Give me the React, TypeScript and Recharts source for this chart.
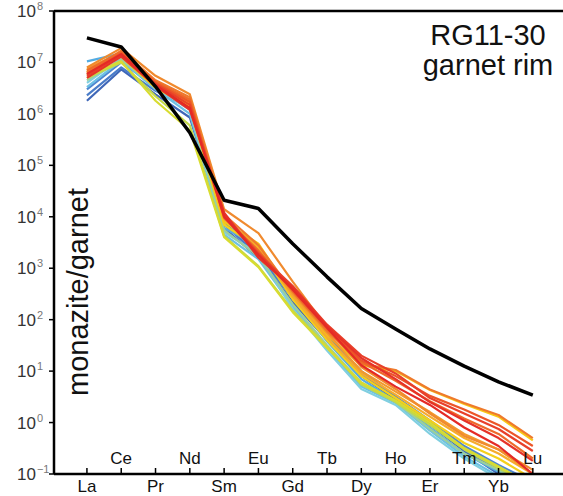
import { LineChart, Line, XAxis, YAxis, ReferenceLine, Customized } from 'recharts'

// REE order on the x axis (Pm omitted)
const ree = ['La', 'Ce', 'Pr', 'Nd', 'Sm', 'Eu', 'Gd', 'Tb', 'Dy', 'Ho', 'Er', 'Tm', 'Yb', 'Lu']

const yTicks = [0.1, 1, 10, 100, 1e3, 1e4, 1e5, 1e6, 1e7, 1e8]

// bulk / reference partition curve
const bulk = [3e7, 2e7, 3.4e6, 4.3e5, 2.1e4, 1.45e4, 3e3, 680, 165, 66, 27, 12.5, 6.2, 3.4]

// individual monazite/garnet rim pairs
const rim01 = [1.8e6, 7.3e6, 2.4e6, 8.5e5, 6e3, 1.6e3, 220, 40, 8, 2.8, 0.9, 0.28, 0.1, 0.05]
const rim02 = [2.3e6, 8e6, 2.8e6, 1.3e6, 7e3, 1.8e3, 260, 45, 9, 3, 1.0, 0.3, 0.12, 0.06]
const rim03 = [3e6, 1e7, 3.4e6, 1.6e6, 8e3, 2e3, 300, 50, 10, 3.2, 1.1, 0.35, 0.15, 0.07]
const rim04 = [1.05e7, 1.5e7, 4.3e6, 1.7e6, 6e3, 2.8e3, 280, 38, 7, 2.6, 0.8, 0.25, 0.11, 0.05]
const rim05 = [3.3e6, 1.1e7, 3e6, 1e6, 4.5e3, 1.5e3, 180, 28, 5, 2.4, 0.7, 0.22, 0.09, 0.04]
const rim06 = [4e6, 1.2e7, 3.2e6, 1.2e6, 5e3, 1.9e3, 160, 25, 4.5, 2.2, 0.6, 0.2, 0.08, 0.035]
const rim07 = [4.5e6, 1.15e7, 3.3e6, 1.3e6, 5.5e3, 1.7e3, 200, 32, 6, 2.5, 0.75, 0.25, 0.12, 0.05]
const rim08 = [5e6, 1e7, 2.2e6, 6e5, 4.2e3, 1.1e3, 150, 30, 5.5, 2.5, 0.9, 0.3, 0.13, 0.06]
const rim09 = [5.5e6, 1.05e7, 1.8e6, 4.8e5, 4e3, 1.05e3, 140, 28, 6, 2.7, 1, 0.32, 0.14, 0.06]
const rim10 = [6e6, 1.3e7, 3.2e6, 1.4e6, 7e3, 2.5e3, 250, 40, 8, 3, 1.1, 0.4, 0.2, 0.08]
const rim11 = [6.5e6, 1.4e7, 3.5e6, 1.5e6, 8e3, 3e3, 300, 50, 13, 10, 4.3, 2.3, 1.3, 0.45]
const rim12 = [7e6, 1.5e7, 3.8e6, 1.6e6, 9e3, 2.6e3, 280, 45, 9, 3.5, 1.3, 0.5, 0.25, 0.1]
const rim13 = [7.5e6, 1.6e7, 4e6, 1.8e6, 1e4, 2.2e3, 320, 55, 10, 4, 1.6, 0.6, 0.3, 0.1]
const rim14 = [8e6, 1.9e7, 5.5e6, 2.4e6, 1.4e4, 4.8e3, 550, 70, 12, 4.5, 1.5, 0.55, 0.3, 0.12]
const rim15 = [6.5e6, 1.7e7, 4.5e6, 2.1e6, 1.1e4, 2.8e3, 350, 60, 14, 10.5, 4.4, 2.4, 1.4, 0.5]
const rim16 = [7e6, 1.6e7, 4.2e6, 1.9e6, 9.5e3, 2.2e3, 360, 65, 15, 6.5, 2.6, 1.2, 0.6, 0.2]
const rim17 = [6e6, 1.5e7, 4e6, 1.7e6, 1e4, 2e3, 400, 70, 16, 8, 3.3, 1.8, 0.9, 0.35]
const rim18 = [5.5e6, 1.4e7, 3.8e6, 1.5e6, 1.1e4, 1.9e3, 450, 80, 20, 9, 3, 1.5, 0.75, 0.28]
const rim19 = [5e6, 1.3e7, 3.5e6, 1.2e6, 1.2e4, 1.6e3, 420, 75, 18, 7, 2.5, 1.1, 0.5, 0.18]
const rim20 = [6e6, 1.45e7, 3.6e6, 1.3e6, 1e4, 1.8e3, 380, 70, 13, 5, 2.2, 0.8, 0.35, 0.1]

const rims = [rim01, rim02, rim03, rim04, rim05, rim06, rim07, rim08, rim09, rim10,
  rim11, rim12, rim13, rim14, rim15, rim16, rim17, rim18, rim19, rim20]

const rimColors = [
  '#3f67b8', '#4a7cc8', '#4f86d0', '#55ace2', '#6cc0e4', '#80cfe0', '#9ccf9c', '#c4d84a',
  '#d8dc30', '#f4d01a', '#f8c814', '#f6ac2c', '#f39a2c', '#f08a2e', '#ef7a2c', '#ee6a2a',
  '#ec5528', '#e8402a', '#e63228', '#e42a26',
]

const rows = ree.map((el, i) => {
  const row: Record<string, number | string> = { idx: i, el, bulk: bulk[i] }
  rims.forEach((r, k) => { row[`r${k}`] = r[i] })
  return row
})

const FONT = '"Liberation Sans", Arial, sans-serif'

function YTick({ y, payload }: any) {
  const exp = Math.round(Math.log10(payload.value))
  const sup = exp < 0 ? `\u2212${-exp}` : `${exp}`
  return (
    <text x={17} y={y + 6} fontSize={17} fill="#333" fontFamily={FONT}>
      10
      <tspan dx={1} dy={-7} fontSize={11} fill="#777">{sup}</tspan>
    </text>
  )
}

function XTick({ x, y, payload }: any) {
  const i = payload.value as number
  const below = i % 2 === 0
  return (
    <g>
      <line x1={x} x2={x} y1={y} y2={y - 6} stroke="#000" strokeWidth={1.5} />
      <text x={x} y={below ? y + 18 : y - 10} textAnchor="middle" fontSize={17} fill="#111" fontFamily={FONT}>
        {ree[i]}
      </text>
    </g>
  )
}

function Annotations() {
  return (
    <g fontFamily={FONT} fill="#111">
      <text x={488} y={45} textAnchor="middle" fontSize={29}>RG11-30</text>
      <text x={488} y={75} textAnchor="middle" fontSize={29}>garnet rim</text>
      <text x={88} y={292} textAnchor="middle" fontSize={29} transform="rotate(-90 88 292)">monazite/garnet</text>
    </g>
  )
}

export default function App() {
  return (
    <div style={{ position: 'absolute', left: 0, top: 0, width: 563, height: 496, background: '#fff' }}>
      <LineChart width={563} height={496} data={rows} margin={{ top: 11, right: 0, bottom: 0, left: 0 }}>
        <XAxis
          type="number"
          dataKey="idx"
          domain={[-0.96, 13.88]}
          ticks={ree.map((_, i) => i)}
          allowDataOverflow
          height={22}
          tickSize={0}
          tickMargin={0}
          tickLine={false}
          tick={<XTick />}
          axisLine={{ stroke: '#000', strokeWidth: 2.5 }}
        />
        <YAxis
          scale="log"
          domain={[0.1, 1e8]}
          ticks={yTicks}
          allowDataOverflow
          width={54}
          tickSize={5}
          tickLine={{ stroke: '#000', strokeWidth: 1.5 }}
          tick={<YTick />}
          axisLine={{ stroke: '#000', strokeWidth: 2.5 }}
        />
        <ReferenceLine y={1e8} stroke="#000" strokeWidth={2.5} />
        {rims.map((_, k) => (
          <Line
            key={k}
            type="linear"
            dataKey={`r${k}`}
            stroke={rimColors[k]}
            strokeWidth={2.2}
            strokeLinejoin="round"
            dot={false}
            isAnimationActive={false}
          />
        ))}
        <Line
          type="linear"
          dataKey="bulk"
          stroke="#000"
          strokeWidth={3.5}
          strokeLinejoin="round"
          dot={false}
          isAnimationActive={false}
        />
        <Customized component={Annotations} />
      </LineChart>
    </div>
  )
}
